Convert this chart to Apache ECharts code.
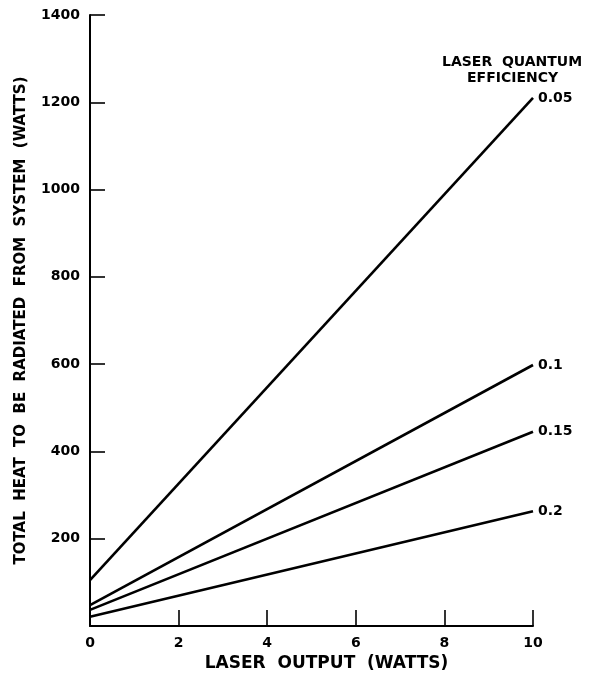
<!DOCTYPE html>
<html>
<head>
<meta charset="utf-8">
<script src="https://cdn.jsdelivr.net/npm/echarts@6/dist/echarts.min.js"></script>
<style>
  html, body { margin: 0; padding: 0; background: #fff; }
  #chart { width: 591px; height: 677px; }
</style>
</head>
<body>
<div id="chart"></div>
<script>
// Laser output power (W) at the two ends of each line
const laserOutput = [0, 10];

// Quantum efficiency labels for each line
const efficiencies = ['0.05', '0.1', '0.15', '0.2'];

// Total heat to be radiated (W) at 0 W and 10 W of laser output
const heat005 = [105, 1210];
const heat010 = [48, 598];
const heat015 = [37, 445];
const heat020 = [21, 263];

// Axis tick values
const xTicks = [0, 2, 4, 6, 8, 10];
const yTicks = [0, 200, 400, 600, 800, 1000, 1200, 1400];

const heatSeries = [heat005, heat010, heat015, heat020];

const FONT = 'DejaVu Sans';

const chart = echarts.init(document.getElementById('chart'), null, { renderer: 'canvas' });

const series = heatSeries.map((vals, i) => ({
  name: efficiencies[i],
  type: 'line',
  data: laserOutput.map((x, j) => [x, vals[j]]),
  symbol: 'none',
  silent: true,
  lineStyle: { color: '#000', width: 2.6 },
  endLabel: {
    show: true,
    formatter: efficiencies[i],
    color: '#000',
    fontFamily: FONT,
    fontWeight: 'bold',
    fontSize: 14,
    distance: 5
  }
}));

chart.setOption({
  backgroundColor: '#fff',
  animation: false,
  grid: { left: 90, right: 58, top: 15, bottom: 51 },
  xAxis: {
    type: 'value',
    min: xTicks[0],
    max: xTicks[xTicks.length - 1],
    interval: xTicks[1] - xTicks[0],
    name: 'LASER  OUTPUT  (WATTS)',
    nameLocation: 'middle',
    nameGap: 27,
    nameTextStyle: {
      color: '#000', fontFamily: FONT, fontWeight: 'bold', fontSize: 17,
      padding: [0, 0, 0, 30]
    },
    axisLine: { lineStyle: { color: '#000', width: 2 } },
    axisTick: { inside: true, length: 16, lineStyle: { color: '#000', width: 1.6 } },
    axisLabel: {
      color: '#000', fontFamily: FONT, fontWeight: 'bold', fontSize: 14, margin: 10,
      formatter: v => String(v)
    },
    splitLine: { show: false }
  },
  yAxis: {
    type: 'value',
    min: yTicks[0],
    max: yTicks[yTicks.length - 1],
    interval: yTicks[1] - yTicks[0],
    name: 'TOTAL  HEAT  TO  BE  RADIATED  FROM  SYSTEM  (WATTS)',
    nameLocation: 'middle',
    nameRotate: 90,
    nameGap: 61,
    nameTextStyle: { color: '#000', fontFamily: FONT, fontWeight: 'bold', fontSize: 15 },
    axisLine: { show: true, lineStyle: { color: '#000', width: 2 } },
    axisTick: { show: true, inside: true, length: 15, lineStyle: { color: '#000', width: 1.6 } },
    axisLabel: {
      color: '#000', fontFamily: FONT, fontWeight: 'bold', fontSize: 14, margin: 10,
      showMinLabel: false,
      formatter: v => String(v)
    },
    splitLine: { show: false }
  },
  graphic: [
    {
      type: 'text', left: 442, top: 55,
      style: { text: 'LASER  QUANTUM', fill: '#000', font: 'bold 14px "DejaVu Sans"' }
    },
    {
      type: 'text', left: 467, top: 71,
      style: { text: 'EFFICIENCY', fill: '#000', font: 'bold 14px "DejaVu Sans"' }
    }
  ],
  series: series
});
</script>
</body>
</html>
